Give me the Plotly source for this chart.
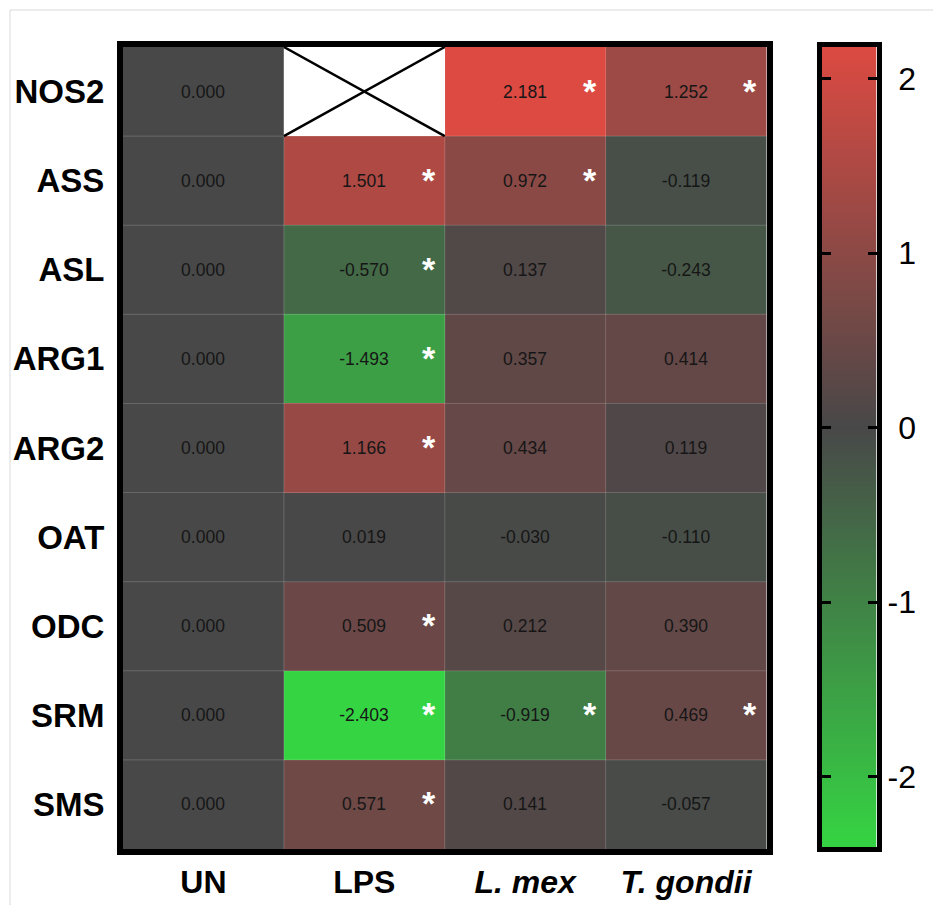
import numpy as np
import plotly.graph_objects as go

# Log2 fold change of arginine-metabolism genes per stimulus
genes = ["NOS2", "ASS", "ASL", "ARG1", "ARG2", "OAT", "ODC", "SRM", "SMS"]
conditions = ["UN", "LPS", "<i>L. mex</i>", "<i>T. gondii</i>"]

un = [0.000, 0.000, 0.000, 0.000, 0.000, 0.000, 0.000, 0.000, 0.000]
lps = [None, 1.501, -0.570, -1.493, 1.166, 0.019, 0.509, -2.403, 0.571]
lmex = [2.181, 0.972, 0.137, 0.357, 0.434, -0.030, 0.212, -0.919, 0.141]
tgondii = [1.252, -0.119, -0.243, 0.414, 0.119, -0.110, 0.390, 0.469, -0.057]

# significance flags (same order as the value lists)
sig_un = [False] * 9
sig_lps = [False, True, True, True, True, False, True, True, True]
sig_lmex = [True, True, False, False, False, False, False, True, False]
sig_tgondii = [True, False, False, False, False, False, False, True, False]

columns = [un, lps, lmex, tgondii]
sig_columns = [sig_un, sig_lps, sig_lmex, sig_tgondii]

z = [[columns[c][r] for c in range(len(columns))] for r in range(len(genes))]
vals = [v for col in columns for v in col if v is not None]
zmin, zmax = min(vals), max(vals)

GREEN, ZERO, RED = "#35d443", "#484848", "#dc4a42"
mid = (0 - zmin) / (zmax - zmin)
colorscale = [[0.0, GREEN], [mid, ZERO], [1.0, RED]]

FONT = "Liberation Sans, Arial, Helvetica, sans-serif"

W, H = 933, 905
ML, MR, MT, MB = 123, 10, 47, 56
PW, PH = W - ML - MR, H - MT - MB


def px_x(x):
    return (x - ML) / PW


def px_y(y):
    return 1 - (y - MT) / PH


fig = go.Figure()

fig.add_trace(go.Heatmap(
    z=z, x=list(range(len(conditions))), y=list(range(len(genes))),
    colorscale=colorscale, zmin=zmin, zmax=zmax, showscale=False,
    texttemplate="%{z:.3f}",
    textfont=dict(family=FONT, size=17.5, color="#161616"),
    hoverinfo="skip",
))

# gradient bar for the colour key
levels = np.linspace(zmin, zmax, 500)
fig.add_trace(go.Heatmap(
    z=[[v] for v in levels], x=[0], y=levels,
    colorscale=colorscale, zmin=zmin, zmax=zmax, showscale=False,
    xaxis="x2", yaxis="y2", hoverinfo="skip",
))
fig.add_trace(go.Scatter(x=[None], y=[None], xaxis="x2", yaxis="y3",
                         showlegend=False, hoverinfo="skip"))

shapes = []
# faint cell separators
for i in range(1, len(conditions)):
    shapes.append(dict(type="line", xref="x", yref="y", x0=i - 0.5, x1=i - 0.5,
                       y0=-0.5, y1=len(genes) - 0.5, layer="above",
                       line=dict(color="rgba(255,255,255,0.18)", width=1)))
for j in range(1, len(genes)):
    shapes.append(dict(type="line", xref="x", yref="y", x0=-0.5, x1=len(conditions) - 0.5,
                       y0=j - 0.5, y1=j - 0.5, layer="above",
                       line=dict(color="rgba(255,255,255,0.18)", width=1)))

# crossed-out cells where no value exists
for r in range(len(genes)):
    for c in range(len(conditions)):
        if z[r][c] is None:
            shapes.append(dict(type="rect", xref="x", yref="y", x0=c - 0.5, x1=c + 0.5,
                               y0=r - 0.5, y1=r + 0.5, fillcolor="white",
                               line=dict(width=0), layer="above"))
            shapes.append(dict(type="line", xref="x", yref="y", x0=c - 0.5, x1=c + 0.5,
                               y0=r - 0.5, y1=r + 0.5, layer="above",
                               line=dict(color="black", width=2.5)))
            shapes.append(dict(type="line", xref="x", yref="y", x0=c - 0.5, x1=c + 0.5,
                               y0=r + 0.5, y1=r - 0.5, layer="above",
                               line=dict(color="black", width=2.5)))

# light page frame
shapes.append(dict(type="line", xref="paper", yref="paper", x0=px_x(10), x1=px_x(10),
                   y0=px_y(10), y1=px_y(920), line=dict(color="#d9d9d9", width=1)))
shapes.append(dict(type="line", xref="paper", yref="paper", x0=px_x(10), x1=px_x(950),
                   y0=px_y(10), y1=px_y(10), line=dict(color="#d9d9d9", width=1)))

annotations = []
for c, flags in enumerate(sig_columns):
    for r, flag in enumerate(flags):
        if flag:
            annotations.append(dict(x=c + 0.4, y=r, xref="x", yref="y", text="<b>*</b>",
                                    showarrow=False, yshift=1,
                                    font=dict(family=FONT, size=34, color="white")))

fig.update_layout(
    width=W, height=H,
    margin=dict(l=ML, r=MR, t=MT, b=MB, pad=0),
    paper_bgcolor="white", plot_bgcolor="white",
    showlegend=False,
    shapes=shapes, annotations=annotations,
    xaxis=dict(domain=[0, px_x(766.5)], range=[-0.5, len(conditions) - 0.5],
               tickvals=list(range(len(conditions))), ticktext=conditions,
               tickfont=dict(family=FONT, size=32, color="black", weight="bold"),
               ticks="", ticklabelstandoff=0, automargin=False,
               showline=True, mirror=True, linewidth=6, linecolor="black",
               showgrid=False, zeroline=False),
    yaxis=dict(domain=[0, 1], range=[len(genes) - 0.5, -0.5],
               tickvals=list(range(len(genes))), ticktext=genes,
               tickfont=dict(family=FONT, size=33, color="black", weight="bold"),
               ticks="", ticklabelstandoff=6, automargin=False,
               showline=True, mirror=True, linewidth=6, linecolor="black",
               showgrid=False, zeroline=False),
    xaxis2=dict(domain=[px_x(821.5), px_x(876.5)], range=[-0.5, 0.5], anchor="y2",
                showticklabels=False, ticks="", showline=True, mirror=True,
                linewidth=5, linecolor="black", showgrid=False, zeroline=False,
                automargin=False),
    yaxis2=dict(domain=[px_y(847), px_y(47)], range=[zmin, zmax], anchor="x2",
                tickvals=[-2, -1, 0, 1, 2], showticklabels=False,
                ticks="inside", ticklen=9, tickwidth=3, tickcolor="black",
                showline=True, mirror="ticks", linewidth=5, linecolor="black",
                showgrid=False, zeroline=False, automargin=False),
    yaxis3=dict(overlaying="y2", anchor="free", position=px_x(916), side="left",
                range=[zmin, zmax], tickvals=[-2, -1, 0, 1, 2],
                ticktext=["-2", "-1", "0", "1", "2"],
                tickfont=dict(family=FONT, size=32, color="black"),
                ticks="", showline=False, showgrid=False, zeroline=False,
                automargin=False),
)

fig.write_html("out.html")
